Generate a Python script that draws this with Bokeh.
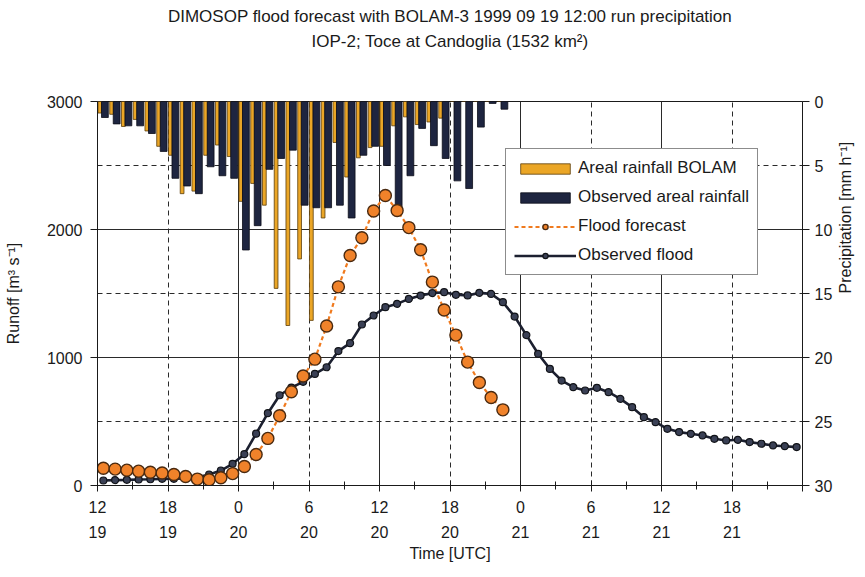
import math
from bokeh.plotting import figure
from bokeh.models import Range1d, LinearAxis, FixedTicker, Legend, LegendItem, Title
from bokeh.embed import file_html
from bokeh.resources import INLINE

# ---------------- data ----------------
# hourly categories counted from 19 Sep 12:00 UTC
observed_flood = [39, 42, 44, 47, 49, 52, 52, 57, 65, 86,
                  117, 169, 245, 405, 565, 705, 765, 810, 872, 924,
                  1050, 1112, 1258, 1328, 1393, 1419, 1458, 1484, 1503, 1510,
                  1490, 1485, 1505, 1497, 1432, 1320, 1175, 1029, 911, 820,
                  768, 742, 763, 729, 677, 612, 534, 495, 443, 417,
                  404, 391, 365, 352, 357, 339, 326, 313, 307, 300]
flood_forecast = [135, 128, 120, 112, 104, 98, 86, 70, 50, 45,
                  60, 93, 148, 242, 368, 545, 733, 855, 987, 1246,
                  1552, 1797, 1935, 2145, 2266, 2148, 2015, 1842, 1589, 1371,
                  1175, 964, 805, 688, 591]
bolam_rain = [0.9, 1.0, 1.95, 1.4, 2.3, 3.5, 4.2, 7.2, 7.0, 4.2,
              3.4, 4.3, 7.8, 6.4, 8.1, 14.6, 17.5, 12.3, 17.1, 9.1,
              3.2, 5.9, 4.4, 3.6, 3.5, 1.9, 1.2, 1.8, 1.6, 1.3,
              0, 0, 0, 0, 0]
observed_rain = [1.25, 1.75, 1.9, 1.9, 2.5, 3.9, 6.0, 6.6, 7.2, 5.1,
                 5.8, 6.0, 11.6, 9.7, 5.3, 4.45, 3.8, 8.1, 8.3, 8.3,
                 8.1, 9.1, 4.2, 3.5, 5.0, 8.8, 5.8, 2.1, 3.45, 4.45,
                 6.2, 6.8, 2.0, 0.15, 0.6]

tick_hours = [0, 6, 12, 18, 24, 30, 36, 42, 48, 54, 60]
hour_labels = ["12", "18", "0", "6", "12", "18", "0", "6", "12", "18", ""]
day_labels = ["19", "19", "20", "20", "20", "20", "21", "21", "21", "21", ""]
runoff_ticks = [0, 1000, 2000, 3000]
precip_ticks = [0, 5, 10, 15, 20, 25, 30]

title_line1 = "DIMOSOP flood forecast with BOLAM-3 1999 09 19 12:00 run precipitation"
title_line2 = "IOP-2; Toce at Candoglia (1532 km²)"

# ---------------- styles ----------------
FONT = "Liberation Sans"
INK = "#1a1a1a"
ORANGE_BAR = "#EBA626"
NAVY_BAR = "#1E2540"
ORANGE_LINE = "#F07A1E"
NAVY_LINE = "#1C2030"

p = figure(width=865, height=577, output_backend="svg", toolbar_location=None,
           x_range=Range1d(0, 60), y_range=Range1d(0, 3000),
           min_border_left=97, min_border_right=61, min_border_top=101,
           min_border_bottom=92, background_fill_color="white",
           border_fill_color="white")
p.outline_line_color = INK
p.outline_line_width = 1
p.extra_y_ranges = {"precip": Range1d(30, 0)}

# titles: spacer next to the frame, then line 2, then line 1 (outermost)
p.add_layout(Title(text=" ", text_font_size="2px", standoff=45), "above")
p.add_layout(Title(text=title_line2, align="center", text_font=FONT,
                   text_font_size="17px", text_font_style="normal",
                   text_color=INK, standoff=4), "above")
p.title.text = title_line1
p.title.align = "center"
p.title.text_font = FONT
p.title.text_font_size = "17px"
p.title.text_font_style = "normal"
p.title.text_color = INK
p.title.standoff = 4

# grids
p.xgrid[0].ticker = FixedTicker(ticks=[12, 24, 36, 48], minor_ticks=[6, 18, 30, 42, 54])
p.ygrid[0].ticker = FixedTicker(ticks=[1000, 2000], minor_ticks=[500, 1500, 2500])
for g in (p.xgrid[0], p.ygrid[0]):
    g.grid_line_color = "#2a2a2a"
    g.grid_line_width = 1
    g.minor_grid_line_color = "#2a2a2a"
    g.minor_grid_line_width = 1
    g.minor_grid_line_dash = "5 4"

# x axis (hour row)
xa = p.xaxis[0]
xa.ticker = FixedTicker(ticks=tick_hours, minor_ticks=list(range(3, 60, 6)))
xa.major_label_overrides = {t: l for t, l in zip(tick_hours, hour_labels)}
xa.major_tick_in = 5
xa.major_tick_out = 6
xa.minor_tick_in = 4
xa.minor_tick_out = 4
xa.major_label_standoff = 9

# day row
day_axis = LinearAxis(ticker=FixedTicker(ticks=tick_hours),
                      major_label_overrides={t: l for t, l in zip(tick_hours, day_labels)},
                      axis_line_color=None, major_tick_line_color=None,
                      minor_tick_line_color=None, major_tick_out=0, major_tick_in=0,
                      major_label_standoff=10, axis_label="Time [UTC]",
                      axis_label_standoff=4)
p.add_layout(day_axis, "below")

# left axis
ya = p.yaxis[0]
ya.ticker = FixedTicker(ticks=runoff_ticks)
ya.axis_label = "Runoff [m³ s⁻¹]"
ya.major_tick_in = 0
ya.major_tick_out = 7
ya.minor_tick_line_color = None
ya.major_label_standoff = 8
ya.axis_label_standoff = 22

# right axis
ra = LinearAxis(y_range_name="precip", ticker=FixedTicker(ticks=precip_ticks),
                axis_label="Precipitation [mm h⁻¹]", major_tick_in=0, major_tick_out=7,
                minor_tick_line_color=None, major_label_standoff=5,
                axis_label_standoff=10)
ra.axis_label_orientation = math.pi / 2
p.add_layout(ra, "right")

for ax in (xa, day_axis, ya, ra):
    ax.major_label_text_font = FONT
    ax.major_label_text_font_size = "16px"
    ax.major_label_text_color = INK
    ax.axis_label_text_font = FONT
    ax.axis_label_text_font_size = "16px"
    ax.axis_label_text_font_style = "normal"
    ax.axis_label_text_color = INK
    if ax is not day_axis:
        ax.axis_line_color = INK
        ax.major_tick_line_color = INK
        ax.minor_tick_line_color = INK if ax is xa else None

# ---------------- glyphs ----------------
rain_idx = list(range(len(bolam_rain)))
r_bolam = p.vbar(x=[i + 0.2 for i in rain_idx], width=0.32, top=0, bottom=bolam_rain,
                 y_range_name="precip", fill_color=ORANGE_BAR, line_color="#5a3d0c",
                 line_width=0.8)
r_obsr = p.vbar(x=[i + 0.63 for i in rain_idx], width=0.58, top=0, bottom=observed_rain,
                y_range_name="precip", fill_color=NAVY_BAR, line_color="#0b0d18",
                line_width=0.8)

obs_x = [i + 0.5 for i in range(len(observed_flood))]
fc_x = [i + 0.5 for i in range(len(flood_forecast))]

r_fc_line = p.line(fc_x, flood_forecast, line_color=ORANGE_LINE, line_width=2.2,
                   line_dash="4 3")
r_obs_line = p.line(obs_x, observed_flood, line_color=NAVY_LINE, line_width=2.6)
r_obs_pts = p.scatter(obs_x, observed_flood, marker="circle", size=7,
                      fill_color="#3a4055", line_color="#111318", line_width=1.2)
r_fc_pts = p.scatter(fc_x, flood_forecast, marker="circle", size=12,
                     fill_color="#F0822A", line_color="#4a2a10", line_width=1.4)

legend = Legend(items=[
    LegendItem(label="Areal rainfall BOLAM", renderers=[r_bolam]),
    LegendItem(label="Observed areal rainfall", renderers=[r_obsr]),
    LegendItem(label="Flood forecast", renderers=[r_fc_line, r_fc_pts]),
    LegendItem(label="Observed flood", renderers=[r_obs_line, r_obs_pts]),
], location=(408, 210))
legend.label_text_font = FONT
legend.label_text_font_size = "17px"
legend.label_text_color = INK
legend.label_height = 22
legend.label_standoff = 2
legend.glyph_width = 62
legend.glyph_height = 13
legend.spacing = 7
legend.padding = 8
legend.margin = 0
legend.border_line_color = INK
legend.border_line_width = 1
legend.background_fill_alpha = 1
p.add_layout(legend)

open("out.html", "w").write(file_html(p, INLINE))
